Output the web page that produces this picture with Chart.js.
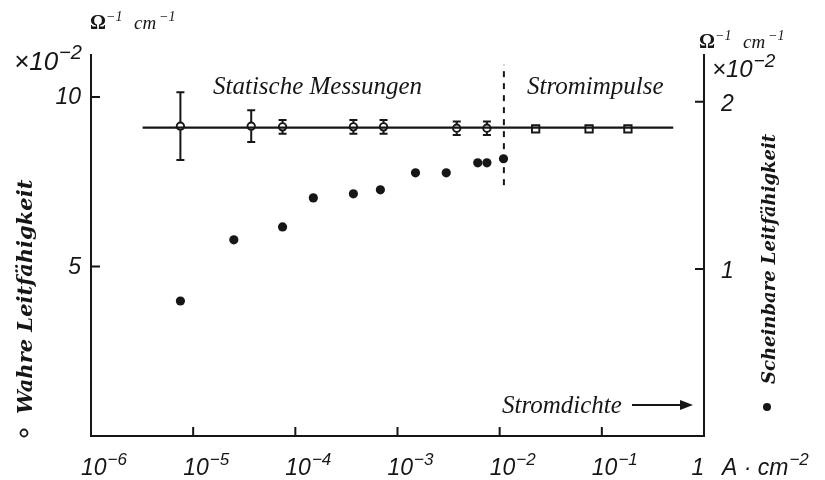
<!DOCTYPE html>
<html>
<head>
<meta charset="utf-8">
<script src="https://cdn.jsdelivr.net/npm/chart.js@4.4.1/dist/chart.umd.min.js"></script>
<style>
  html, body { margin: 0; padding: 0; background: #fff; }
  #wrap { width: 825px; height: 480px; }
</style>
</head>
<body>
<div id="wrap"><canvas id="leitChart" width="825" height="480"></canvas></div>
<script>
// Stromdichte in A/cm^2 (log axis)
const wahreX = [7.5e-6, 3.7e-5, 7.5e-5, 3.7e-4, 7.3e-4, 3.8e-3, 7.5e-3, 0.0225, 0.075, 0.18]
const wahreY = [9.14, 9.14, 9.12, 9.12, 9.12, 9.08, 9.08, 9.06, 9.06, 9.06]
const wahreErr = [1.0, 0.47, 0.2, 0.2, 0.2, 0.2, 0.2, 0, 0, 0]
const wahreStyle = ['circle', 'circle', 'circle', 'circle', 'circle', 'circle', 'circle', 'rect', 'rect', 'rect']

const wahreLineX = [3.2e-6, 0.5]
const wahreLineY = [9.1, 9.1]

const scheinX = [7.5e-6, 2.5e-5, 7.5e-5, 1.5e-4, 3.7e-4, 6.8e-4, 1.5e-3, 3.0e-3, 6.1e-3, 7.5e-3, 0.0109]
const scheinY = [0.808, 1.174, 1.251, 1.425, 1.449, 1.473, 1.575, 1.575, 1.635, 1.635, 1.659]

const grenzeX = [0.011, 0.011]
const grenzeY = [7.4, 10.95]

const xTicks = [1e-6, 1e-5, 1e-4, 1e-3, 1e-2, 1e-1, 1]
const xTickExp = ['−6', '−5', '−4', '−3', '−2', '−1', '']
const yLeftTicks = [5, 10]
const yRightTicks = [1, 2]

const serif = '"Liberation Serif", "DejaVu Serif", serif'
const wideSerif = '"DejaVu Serif", "Liberation Serif", serif'
const sans = '"Liberation Sans", "DejaVu Sans", sans-serif'
const ink = '#161616'

const toPoints = (xs, ys) => xs.map((x, i) => ({ x: x, y: ys[i] }))

// small helper: base text + raised exponent
const drawPow = (ctx, base, exp, x, y, size, expScale = 0.72) => {
  ctx.font = 'italic ' + size + 'px ' + sans
  ctx.textAlign = 'left'
  ctx.textBaseline = 'alphabetic'
  ctx.fillText(base, x, y)
  const w = ctx.measureText(base).width
  ctx.font = 'italic ' + Math.round(size * expScale) + 'px ' + sans
  ctx.fillText(exp, x + w + 1, y - size * 0.42)
}

const errorBars = {
  id: 'errorBars',
  afterDatasetsDraw(chart) {
    const { ctx } = chart
    const yScale = chart.scales.y
    const meta = chart.getDatasetMeta(1)
    ctx.save()
    ctx.strokeStyle = ink
    ctx.lineWidth = 2
    meta.data.forEach((pt, i) => {
      const err = wahreErr[i]
      if (!err) return
      const top = yScale.getPixelForValue(wahreY[i] + err)
      const bot = yScale.getPixelForValue(wahreY[i] - err)
      ctx.beginPath()
      ctx.moveTo(pt.x, top)
      ctx.lineTo(pt.x, pt.y - 4)
      ctx.moveTo(pt.x, pt.y + 4)
      ctx.lineTo(pt.x, bot)
      ctx.moveTo(pt.x - 4, top)
      ctx.lineTo(pt.x + 4, top)
      ctx.moveTo(pt.x - 4, bot)
      ctx.lineTo(pt.x + 4, bot)
      ctx.stroke()
    })
    ctx.restore()
  },
}

const axisDecor = {
  id: 'axisDecor',
  afterDraw(chart) {
    const { ctx, chartArea } = chart
    const { x, y, y2 } = chart.scales
    ctx.save()
    ctx.strokeStyle = ink
    ctx.fillStyle = ink
    ctx.lineWidth = 2

    // inward ticks
    ctx.beginPath()
    xTicks.forEach((v) => {
      if (v === 1e-6 || v === 1) return
      const px = x.getPixelForValue(v)
      ctx.moveTo(px, chartArea.bottom)
      ctx.lineTo(px, chartArea.bottom - 9)
    })
    yLeftTicks.forEach((v) => {
      const py = y.getPixelForValue(v)
      ctx.moveTo(chartArea.left, py)
      ctx.lineTo(chartArea.left + 9, py)
    })
    yRightTicks.forEach((v) => {
      const py = y2.getPixelForValue(v)
      ctx.moveTo(chartArea.right, py)
      ctx.lineTo(chartArea.right - 9, py)
    })
    ctx.stroke()

    // x tick labels
    xTicks.forEach((v, i) => {
      const px = x.getPixelForValue(v)
      if (xTickExp[i]) {
        drawPow(ctx, '10', xTickExp[i], px - 10, 475, 23)
      } else {
        ctx.font = 'italic 23px ' + sans
        ctx.textAlign = 'center'
        ctx.fillText('1', px - 6, 475)
      }
    })
    drawPow(ctx, 'A · cm', '−2', 722, 475, 23)

    // left tick labels
    ctx.font = 'italic 23px ' + sans
    ctx.textAlign = 'right'
    ctx.textBaseline = 'middle'
    yLeftTicks.forEach((v) => {
      ctx.fillText(String(v), 81, y.getPixelForValue(v) + 1)
    })
    // right tick labels
    ctx.textAlign = 'left'
    yRightTicks.forEach((v) => {
      ctx.fillText(String(v), 721, y2.getPixelForValue(v) + 3)
    })

    // units
    drawPow(ctx, '×10', '−2', 14, 70, 26, 0.78)
    drawPow(ctx, '×10', '−2', 712, 77, 24, 0.78)
    const unit = (ux, uy) => {
      ctx.textAlign = 'left'
      ctx.textBaseline = 'alphabetic'
      ctx.font = 'bold 20px ' + serif
      ctx.fillText('Ω', ux, uy)
      ctx.font = 'italic 14px ' + serif
      ctx.fillText('−1', ux + 16, uy - 8)
      ctx.font = 'italic 19px ' + serif
      ctx.fillText('cm', ux + 44, uy)
      ctx.font = 'italic 14px ' + serif
      ctx.fillText('−1', ux + 69, uy - 8)
    }
    unit(90, 29)
    unit(699, 48)

    // region labels
    ctx.font = 'italic 25px ' + serif
    ctx.textAlign = 'left'
    ctx.textBaseline = 'alphabetic'
    ctx.fillText('Statische Messungen', 213, 94)
    ctx.fillText('Stromimpulse', 527, 94)

    ctx.font = 'italic 25px ' + serif
    ctx.fillText('Stromdichte', 502, 413)
    ctx.beginPath()
    ctx.moveTo(632, 405)
    ctx.lineTo(683, 405)
    ctx.stroke()
    ctx.beginPath()
    ctx.moveTo(693, 405)
    ctx.lineTo(680, 400)
    ctx.lineTo(680, 410)
    ctx.closePath()
    ctx.fill()

    // axis titles
    ctx.save()
    ctx.translate(32, 414)
    ctx.rotate(-Math.PI / 2)
    ctx.font = 'italic bold 21px ' + wideSerif
    ctx.textAlign = 'left'
    ctx.fillText('Wahre Leitfähigkeit', 0, 0)
    ctx.restore()
    ctx.beginPath()
    ctx.arc(24, 433, 3.5, 0, Math.PI * 2)
    ctx.lineWidth = 1.8
    ctx.stroke()

    ctx.save()
    ctx.translate(775, 384)
    ctx.rotate(-Math.PI / 2)
    ctx.font = 'italic bold 18px ' + wideSerif
    ctx.textAlign = 'left'
    ctx.fillText('Scheinbare Leitfähigkeit', 0, 0)
    ctx.restore()
    ctx.beginPath()
    ctx.arc(767, 407, 4, 0, Math.PI * 2)
    ctx.fill()

    ctx.restore()
  },
}

const noSpace = (scale) => {
  if (scale.isHorizontal()) scale.height = 0
  else scale.width = 0
}

new Chart(document.getElementById('leitChart'), {
  type: 'scatter',
  data: {
    datasets: [
      {
        label: 'Wahre Leitfähigkeit (Linie)',
        data: toPoints(wahreLineX, wahreLineY),
        showLine: true,
        borderColor: ink,
        borderWidth: 2.2,
        pointRadius: 0,
        yAxisID: 'y',
      },
      {
        label: 'Wahre Leitfähigkeit',
        data: toPoints(wahreX, wahreY),
        pointStyle: wahreStyle,
        pointRadius: wahreStyle.map((s) => (s === 'rect' ? 5.2 : 3.7)),
        pointBorderWidth: 1.9,
        pointBackgroundColor: '#fff',
        pointBorderColor: ink,
        yAxisID: 'y',
      },
      {
        label: 'Scheinbare Leitfähigkeit',
        data: toPoints(scheinX, scheinY),
        pointRadius: 4.6,
        pointBorderWidth: 0,
        pointBackgroundColor: ink,
        yAxisID: 'y2',
      },
      {
        label: 'Grenze',
        data: toPoints(grenzeX, grenzeY),
        showLine: true,
        borderColor: ink,
        borderWidth: 2,
        borderDash: [6, 6],
        pointRadius: 0,
        yAxisID: 'y',
      },
    ],
  },
  options: {
    responsive: false,
    animation: false,
    devicePixelRatio: 1,
    layout: { padding: { left: 91, right: 121, top: 55, bottom: 44 } },
    plugins: {
      legend: { display: false },
      tooltip: { enabled: false },
    },
    scales: {
      x: {
        type: 'logarithmic',
        min: 1e-6,
        max: 1,
        ticks: { display: false },
        grid: { display: false, drawTicks: false },
        border: { display: true, color: ink, width: 2 },
        afterFit: noSpace,
      },
      y: {
        position: 'left',
        min: 0,
        max: 11.24,
        ticks: { display: false },
        grid: { display: false, drawTicks: false },
        border: { display: true, color: ink, width: 2 },
        afterFit: noSpace,
      },
      y2: {
        position: 'right',
        min: 0,
        max: 2.28,
        ticks: { display: false },
        grid: { display: false, drawTicks: false },
        border: { display: true, color: ink, width: 2 },
        afterFit: noSpace,
      },
    },
  },
  plugins: [errorBars, axisDecor],
})
</script>
</body>
</html>
